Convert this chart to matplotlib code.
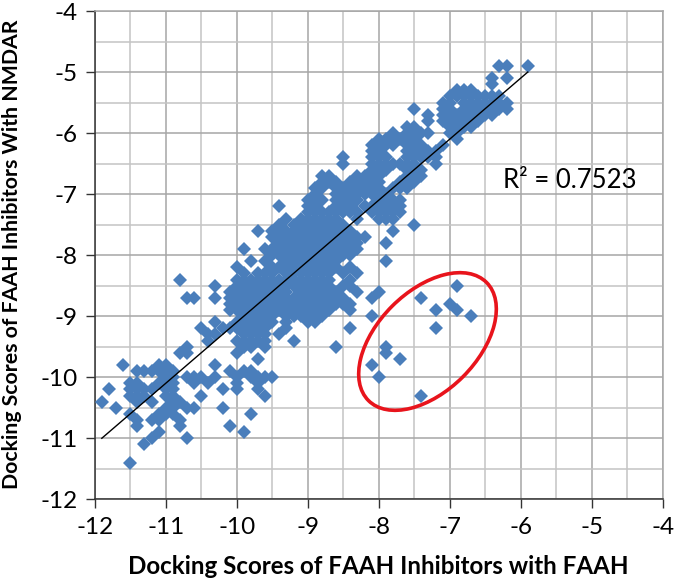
import matplotlib.pyplot as plt
import numpy as np
from matplotlib.patches import Ellipse
from matplotlib.transforms import IdentityTransform

plt.rcParams['font.family'] = ['Lato', 'DejaVu Sans']

nmdar_rows = [-4.9, -5.1, -5.2, -5.3, -5.4, -5.5, -5.6, -5.7, -5.8, -5.9, -6.0, -6.1, -6.2, -6.3, -6.4, -6.5,
              -6.6, -6.7, -6.8, -6.9, -7.0, -7.1, -7.2, -7.3, -7.4, -7.5, -7.6, -7.7, -7.8, -7.9, -8.0, -8.1,
              -8.2, -8.3, -8.4, -8.5, -8.6, -8.7, -8.8, -8.9, -9.0, -9.1, -9.2, -9.3, -9.4, -9.5, -9.6, -9.7,
              -9.8, -9.9, -10.0, -10.1, -10.2, -10.3, -10.4, -10.5, -10.6, -10.7, -10.8, -10.9, -11.0, -11.1, -11.4]
faah_rows = [
    [-6.3, -6.2, -5.9],
    [-6.4, -6.2],
    [-6.4],
    [-6.9, -6.8, -6.7],
    [-7.0, -6.9, -6.8, -6.7, -6.6, -6.5, -6.4, -6.3],
    [-7.1, -7.0, -6.8, -6.7, -6.6, -6.5, -6.4, -6.3, -6.2],
    [-7.5, -7.1, -7.0, -6.8, -6.7, -6.6, -6.4, -6.3, -6.2],
    [-7.3, -7.1, -7.0, -6.9, -6.8, -6.7, -6.6, -6.5, -6.4],
    [-7.3, -7.1, -7.0, -6.9, -6.8, -6.7, -6.6],
    [-7.6, -7.5, -7.0, -6.9, -6.8, -6.7],
    [-7.8, -7.6, -7.5, -7.4, -7.3, -7.0, -6.9],
    [-8.0, -7.9, -7.8, -7.7, -7.6, -7.5, -6.9],
    [-8.1, -8.0, -7.9, -7.8, -7.6, -7.5, -7.4, -7.1],
    [-8.1, -8.0, -7.6, -7.4, -7.3, -7.2],
    [-8.5, -8.1, -8.0, -7.9, -7.6, -7.5, -7.4, -7.3, -7.2],
    [-8.5, -8.1, -8.0, -7.9, -7.8, -7.7, -7.6, -7.5, -7.2],
    [-8.1, -8.0, -7.9, -7.6, -7.5, -7.4],
    [-8.8, -8.7, -8.3, -8.2, -8.1, -8.0, -7.6, -7.5, -7.4],
    [-8.8, -8.7, -8.6, -8.4, -8.3, -8.2, -8.1, -8.0, -7.7, -7.6, -7.5],
    [-8.9, -8.8, -8.6, -8.5, -8.4, -8.3, -8.2, -8.1, -8.0, -7.8, -7.7, -7.6],
    [-8.9, -8.6, -8.5, -8.4, -8.3, -8.2, -8.1, -8.0, -7.9],
    [-9.0, -8.9, -8.8, -8.6, -8.5, -8.4, -8.3, -8.0, -7.9, -7.8, -7.7],
    [-9.4, -9.0, -8.9, -8.6, -8.5, -8.4, -8.2, -8.1, -8.0, -7.9, -7.8, -7.7],
    [-9.0, -8.9, -8.8, -8.7, -8.6, -8.5, -8.4, -8.3, -8.1, -8.0, -7.9, -7.8, -7.7],
    [-9.3, -9.1, -9.0, -8.9, -8.8, -8.7, -8.6, -8.3, -8.0, -7.9, -7.8],
    [-9.4, -9.2, -9.1, -9.0, -8.9, -8.8, -8.7, -8.6, -8.5, -7.5],
    [-9.7, -9.5, -9.4, -9.3, -9.2, -9.1, -9.0, -8.9, -8.8, -8.7, -8.6, -8.5, -8.4, -7.8],
    [-9.5, -9.4, -9.3, -9.2, -9.1, -9.0, -8.9, -8.8, -8.7, -8.6, -8.5, -8.4, -8.3, -8.2],
    [-9.4, -9.3, -9.2, -9.1, -9.0, -8.9, -8.8, -8.7, -8.6, -8.5, -8.4, -8.3, -7.9],
    [-9.9, -9.6, -9.5, -9.3, -9.2, -9.1, -9.0, -8.9, -8.8, -8.7, -8.6, -8.5, -8.4, -8.3],
    [-9.5, -9.4, -9.3, -9.2, -9.1, -9.0, -8.9, -8.8, -8.7, -8.6, -8.5, -8.4],
    [-9.8, -9.6, -9.3, -9.2, -9.1, -9.0, -8.9, -8.8, -8.7, -8.6, -7.9],
    [-10.0, -9.5, -9.4, -9.3, -9.2, -9.1, -9.0, -8.9, -8.8, -8.7, -8.6, -8.4],
    [-9.9, -9.7, -9.6, -9.5, -9.3, -9.2, -9.1, -9.0, -8.9, -8.8, -8.7, -8.5, -8.3],
    [-10.8, -10.0, -9.9, -9.8, -9.7, -9.6, -9.5, -9.4, -9.3, -9.2, -9.1, -9.0, -8.9, -8.8, -8.7, -8.4],
    [-10.3, -10.0, -9.9, -9.8, -9.7, -9.6, -9.5, -9.4, -9.3, -9.2, -9.1, -9.0, -8.9, -8.8, -8.7, -8.5, -8.4, -6.9],
    [-10.1, -10.0, -9.9, -9.8, -9.7, -9.6, -9.4, -9.3, -9.1, -9.0, -8.9, -8.8, -8.7, -8.6, -8.3, -8.0],
    [-10.7, -10.6, -10.3, -10.1, -10.0, -9.9, -9.8, -9.7, -9.5, -9.4, -9.3, -9.2, -9.0, -8.9, -8.8, -8.7, -8.5, -8.1, -7.4],
    [-10.1, -9.9, -9.8, -9.7, -9.6, -9.5, -9.4, -9.3, -9.2, -9.1, -8.9, -8.8, -8.7, -8.6, -8.5, -8.4, -7.0],
    [-10.1, -10.0, -9.9, -9.8, -9.7, -9.6, -9.5, -9.4, -9.3, -9.2, -9.1, -9.0, -8.9, -8.8, -8.7, -8.4, -7.2, -6.9],
    [-9.9, -9.8, -9.7, -9.6, -9.5, -9.3, -9.2, -9.1, -8.9, -8.8, -8.1, -6.7],
    [-10.3, -10.0, -9.9, -9.8, -9.7, -9.6, -9.5, -9.3, -9.0, -8.9],
    [-10.5, -10.2, -10.1, -10.0, -9.9, -9.8, -9.7, -9.6, -9.3, -8.4, -7.2],
    [-10.4, -10.3, -9.9, -9.8, -9.7, -9.6, -9.4],
    [-10.4, -10.0, -9.9, -9.8, -9.7, -9.6, -9.2],
    [-10.7, -9.9, -9.8, -9.6, -8.6, -7.9],
    [-10.8, -10.7, -10.0, -7.9],
    [-9.7, -7.7],
    [-11.6, -11.1, -11.0, -10.3, -8.1],
    [-11.4, -11.3, -11.2, -11.1, -11.0, -10.9, -10.1, -9.9, -9.8],
    [-11.0, -10.9, -10.7, -10.6, -10.5, -10.3, -10.0, -9.8, -9.7, -9.6, -9.5, -8.0],
    [-11.5, -11.4, -11.1, -11.0, -10.9, -10.6, -10.4, -10.0, -9.7],
    [-11.8, -11.5, -11.4, -11.3, -11.2, -11.0, -10.9, -10.2, -10.0, -9.7],
    [-11.5, -11.4, -11.3, -11.0, -10.9, -10.5, -9.6, -7.4],
    [-11.9, -11.4, -11.2, -10.9, -10.8],
    [-11.7, -11.0, -10.9, -10.7, -10.6, -10.2],
    [-11.5, -11.1, -11.0, -10.9, -9.8],
    [-11.4, -11.2, -11.1, -10.8],
    [-11.4, -10.8, -10.1],
    [-11.1, -9.9],
    [-11.2, -10.7],
    [-11.3],
    [-11.5],
]

# trendline ends
trend_x = [-11.9, -5.9]
trend_y = [-11.0, -5.0]

major_ticks = [-12, -11, -10, -9, -8, -7, -6, -5, -4]
tick_labels = ['-12', '-11', '-10', '-9', '-8', '-7', '-6', '-5', '-4']
minor_ticks = [-11.5, -10.5, -9.5, -8.5, -7.5, -6.5, -5.5, -4.5]

W, H = 675, 583
fig = plt.figure(figsize=(W / 100, H / 100), dpi=100)
ax = fig.add_axes([94.7 / W, 1 - 499.3 / H, 568 / W, 488.3 / H])

xs = []
ys = []
for y, row in zip(nmdar_rows, faah_rows):
    for x in row:
        xs.append(x)
        ys.append(y)

ax.plot(xs, ys, linestyle='none', marker='D', markersize=7, color='#4a7ebb', markeredgewidth=0, zorder=3)
ax.plot(trend_x, trend_y, color='black', linewidth=1.0, zorder=4)

ax.set_xlim(-12, -4)
ax.set_ylim(-12, -4)
ax.set_xticks(major_ticks)
ax.set_xticklabels(tick_labels)
ax.set_yticks(major_ticks)
ax.set_yticklabels(tick_labels)
ax.set_xticks(minor_ticks, minor=True)
ax.set_yticks(minor_ticks, minor=True)

ax.grid(which='major', color='#a6a6a6', linewidth=1.1, zorder=0)
ax.grid(which='minor', color='#c4c4c4', linewidth=1.1, zorder=0)
ax.set_axisbelow(True)
ax.tick_params(which='minor', length=0)
ax.tick_params(which='major', length=6.5, width=1.0, color='#333333', labelsize=17.5, labelcolor='black', pad=6)

for side in ['left', 'bottom']:
    ax.spines[side].set_color('#333333')
    ax.spines[side].set_linewidth(1.1)
for side in ['top', 'right']:
    ax.spines[side].set_color('#a6a6a6')
    ax.spines[side].set_linewidth(1.1)

ax.text(-6.25, -6.78, 'R² = 0.7523', fontsize=18.5, ha='left', va='center', color='black', zorder=5)

# red ellipse drawn in pixels so the tilt is not skewed by the axis scales
ring = Ellipse((427.5, H - 341.5), 167, 100, angle=45, fill=False, edgecolor='#e8141c', linewidth=2.6,
               transform=IdentityTransform(), zorder=5)
fig.add_artist(ring)

fig.text(378 / W, 1 - 566 / H, 'Docking Scores of FAAH Inhibitors with FAAH', fontsize=17.4, fontweight='bold',
         ha='center', va='center')
fig.text(12 / W, 1 - 254 / H, 'Docking Scores of FAAH Inhibitors With NMDAR', fontsize=15.3, fontweight='bold',
         rotation=90, ha='center', va='center')

fig.savefig('out.png', dpi=100)
